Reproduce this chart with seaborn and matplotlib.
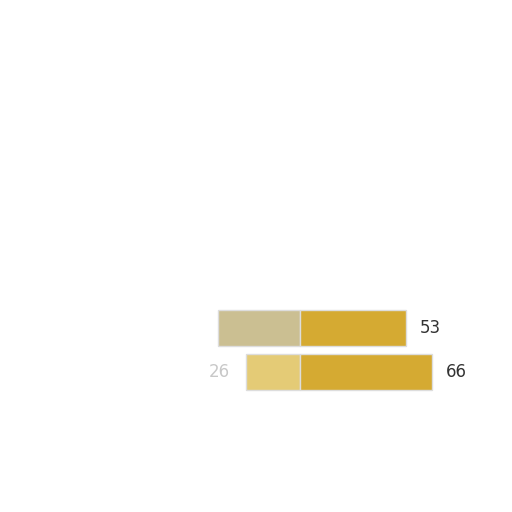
import pandas as pd
import matplotlib.pyplot as plt
import seaborn as sns

# DATOS
categorias = ["fila 1", "fila 2"]
valores_der = [53, 66]
valores_izq = [41, 27]
etiqueta_izq = "26"

df = pd.DataFrame({
    "categoria": categorias,
    "derecha": valores_der,
    "izquierda": [-v for v in valores_izq],
})

sns.set_theme(style="white")
plt.rcParams["font.family"] = ["DejaVu Sans"]

fig = plt.figure(figsize=(5.12, 5.12), dpi=100)
ax = fig.add_axes([0, 0, 1, 1])

# parte izquierda (clara)
sns.barplot(data=df, y="categoria", x="izquierda", orient="h", ax=ax,
            palette=["#cbbf92", "#e4cb76"], hue="categoria", legend=False,
            width=0.8, edgecolor="#dddddd", linewidth=1, saturation=1)
# parte derecha (dorada)
sns.barplot(data=df, y="categoria", x="derecha", orient="h", ax=ax,
            color="#d5aa32", width=0.8, edgecolor="#dddddd", linewidth=1,
            saturation=1)

# etiquetas
for i, v in enumerate(valores_der):
    ax.text(v + 7, i, str(v), va="center", ha="left", fontsize=12, color="#333333")
ax.text(-valores_izq[1] - 8, 1, etiqueta_izq, va="center", ha="right",
        fontsize=12, color="#c8c8c8")

ax.set_xlim(-150, 106)
ax.set_ylim(4.18, -7.45)
ax.axis("off")

fig.savefig("out.png", dpi=100, facecolor="white")
